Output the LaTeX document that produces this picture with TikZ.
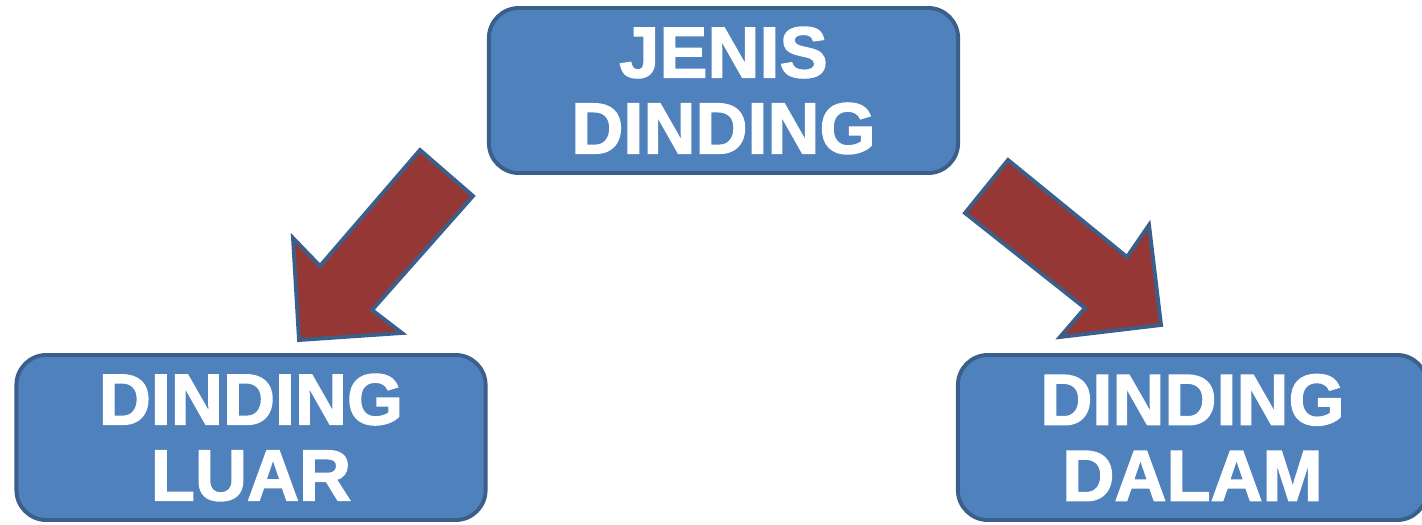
\documentclass[tikz,border=0pt]{standalone}
\usepackage{fontspec}
\setmainfont{Liberation Sans}[BoldFeatures={FakeBold=2}]
\definecolor{boxfill}{HTML}{4F81BD}
\definecolor{boxline}{HTML}{3A5F8B}
\definecolor{arrowfill}{HTML}{953735}
\begin{document}
\begin{tikzpicture}[
x=0.01cm, y=-0.01cm,
box/.style={
    draw=boxline,
    fill=boxfill,
    line width=1.1pt,
    rounded corners=0.3cm,
    minimum width=4.69cm,
    minimum height=1.65cm,
    align=center,
    text=white,
    font=\bfseries\fontsize{20.5}{21.6}\selectfont
},
bigarrow/.style={
    draw=boxline,
    fill=arrowfill,
    line width=1.1pt
}
]
\useasboundingbox (0,0) rectangle (1422,524);

%---------------- Boxes ----------------
\node[box] (jenis) at (723.5,90.5) {JENIS\\DINDING};
\node[box] (luar) at (251,437.5) {DINDING\\LUAR};
\node[box] (dalam) at (1192.5,437.5) {DINDING\\DALAM};

%---------------- Arrows ----------------
\draw[bigarrow] (420,150) -- (473,196) -- (372,310) -- (402,333)
    -- (299,340) -- (293,238) -- (320,266) -- cycle;
\draw[bigarrow] (1008,160) -- (965,213) -- (1085,308) -- (1060,337)
    -- (1161,325) -- (1149,225) -- (1127,257) -- cycle;

\end{tikzpicture}
\end{document}
